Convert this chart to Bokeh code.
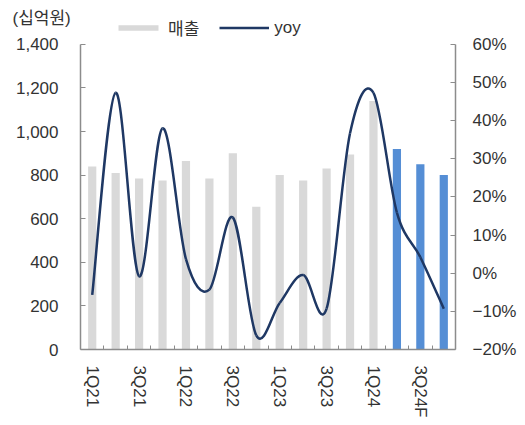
from bokeh.plotting import figure
from bokeh.models import (Range1d, LinearAxis, FixedTicker, NumeralTickFormatter,
                          CustomJSTickFormatter, Legend, LegendItem, ColumnDataSource)
from bokeh.embed import file_html
from bokeh.resources import INLINE

categories = ["1Q21", "2Q21", "3Q21", "4Q21", "1Q22", "2Q22", "3Q22", "4Q22",
              "1Q23", "2Q23", "3Q23", "4Q23", "1Q24", "2Q24F", "3Q24F", "4Q24F"]
sales = [840, 810, 785, 775, 865, 785, 900, 655, 800, 775, 830, 895, 1140, 920, 850, 800]
yoy = [-5.7, 47.3, -0.8, 38.0, 3.7, -4.3, 14.6, -16.3, -7.8, -0.5, -9.3, 36.7, 47.3, 15.9, 4.2, -9.3]
forecast = [False] * 13 + [True] * 3
left_ticks = [0, 200, 400, 600, 800, 1000, 1200, 1400]
right_ticks = [-20, -10, 0, 10, 20, 30, 40, 50, 60]

FONT = "Liberation Sans"
KFONT = "Liberation Sans, Noto Sans CJK KR"
FS = "17px"
TXT = "#333333"
AX = "#8c8c8c"

n = len(categories)
xs = [i + 0.5 for i in range(n)]

# frame spans from y=14 to y=351; axis values 1400 / 60% sit at y=44
TOP_PAD = 30 / 307.0
p = figure(width=520, height=420, output_backend="svg", toolbar_location=None,
           x_range=Range1d(0, n),
           y_range=Range1d(0, left_ticks[-1] * (1 + TOP_PAD)),
           min_border_left=80, min_border_right=65, min_border_top=14, min_border_bottom=69)
span_pct = right_ticks[-1] - right_ticks[0]
p.extra_y_ranges = {"pct": Range1d(right_ticks[0], right_ticks[-1] + span_pct * TOP_PAD)}
p.outline_line_color = None
p.xgrid.visible = False
p.ygrid.visible = False
p.background_fill_color = "white"

act = ColumnDataSource(dict(x=[x for x, f in zip(xs, forecast) if not f],
                            top=[s for s, f in zip(sales, forecast) if not f]))
fc = ColumnDataSource(dict(x=[x for x, f in zip(xs, forecast) if f],
                           top=[s for s, f in zip(sales, forecast) if f]))
r_act = p.vbar(x="x", top="top", width=0.35, source=act, fill_color="#d9d9d9", line_color=None)
r_fc = p.vbar(x="x", top="top", width=0.35, source=fc, fill_color="#558ed5", line_color=None)

# smoothed line (cubic Bezier segments through the yoy points)
x0s, y0s, x1s, y1s, cx0, cy0, cx1, cy1 = [], [], [], [], [], [], [], []
t = 1 / 6
for i in range(n - 1):
    pm = (xs[max(i - 1, 0)], yoy[max(i - 1, 0)])
    p0 = (xs[i], yoy[i])
    p1 = (xs[i + 1], yoy[i + 1])
    pn = (xs[min(i + 2, n - 1)], yoy[min(i + 2, n - 1)])
    x0s.append(p0[0]); y0s.append(p0[1]); x1s.append(p1[0]); y1s.append(p1[1])
    cx0.append(p0[0] + (p1[0] - pm[0]) * t); cy0.append(p0[1] + (p1[1] - pm[1]) * t)
    cx1.append(p1[0] - (pn[0] - p0[0]) * t); cy1.append(p1[1] - (pn[1] - p0[1]) * t)
r_line = p.bezier(x0=x0s, y0=y0s, x1=x1s, y1=y1s, cx0=cx0, cy0=cy0, cx1=cx1, cy1=cy1,
                  y_range_name="pct", line_color="#1f3864", line_width=2.5)

# x axis
xa = p.xaxis[0]
xa.ticker = FixedTicker(ticks=[xs[i] for i in range(0, n, 2)], minor_ticks=list(range(1, n)))
xa.major_label_overrides = {xs[i]: categories[i] for i in range(0, n, 2)}
xa.major_label_orientation = "vertical"
xa.major_tick_in = 0
xa.major_tick_out = 0
xa.minor_tick_in = 4
xa.minor_tick_out = 0
xa.minor_tick_line_color = AX
xa.axis_line_color = AX
xa.axis_line_width = 1.5
xa.major_label_standoff = 16
xa.major_label_text_font = FONT
xa.major_label_text_font_size = FS
xa.major_label_text_color = TXT

# left axis
ya = p.yaxis[0]
ya.ticker = FixedTicker(ticks=left_ticks, minor_ticks=[])
ya.bounds = (left_ticks[0], left_ticks[-1])
ya.formatter = NumeralTickFormatter(format="0,0")
ya.major_tick_in = 5
ya.major_tick_out = 0
ya.minor_tick_line_color = None
ya.major_tick_line_color = AX
ya.axis_line_color = AX
ya.axis_line_width = 1.5
ya.major_label_standoff = 22
ya.major_label_text_font = FONT
ya.major_label_text_font_size = FS
ya.major_label_text_color = TXT

# right axis
ra = LinearAxis(y_range_name="pct")
ra.ticker = FixedTicker(ticks=right_ticks, minor_ticks=[])
ra.bounds = (right_ticks[0], right_ticks[-1])
ra.formatter = CustomJSTickFormatter(code="return (tick < 0 ? '\u2212' + Math.abs(tick) : tick) + '%';")
ra.major_tick_in = 5
ra.major_tick_out = 0
ra.minor_tick_line_color = None
ra.major_tick_line_color = AX
ra.axis_line_color = AX
ra.axis_line_width = 1.5
ra.major_label_standoff = 17
ra.major_label_text_font = FONT
ra.major_label_text_font_size = FS
ra.major_label_text_color = TXT
p.add_layout(ra, "right")

# unit text as the title, shifted to the left edge
p.title.text = "(십억원)"
p.title.align = "left"
p.title.offset = -68
p.title.vertical_align = "bottom"
p.title.text_font = KFONT
p.title.text_font_size = FS
p.title.text_font_style = "normal"
p.title.text_color = TXT
try:
    p.title.standoff = -26
except Exception:
    p.title.standoff = 0

legend = Legend(items=[LegendItem(label="매출", renderers=[r_act]),
                       LegendItem(label="yoy", renderers=[r_line])],
                location=(33, 309), orientation="horizontal",
                glyph_width=50, glyph_height=7, label_standoff=5, spacing=20,
                padding=0, margin=0, border_line_color=None, background_fill_alpha=0,
                label_text_font=KFONT, label_text_font_size=FS, label_text_color=TXT)
p.add_layout(legend, "center")

open("out.html", "w").write(file_html(p, INLINE))
